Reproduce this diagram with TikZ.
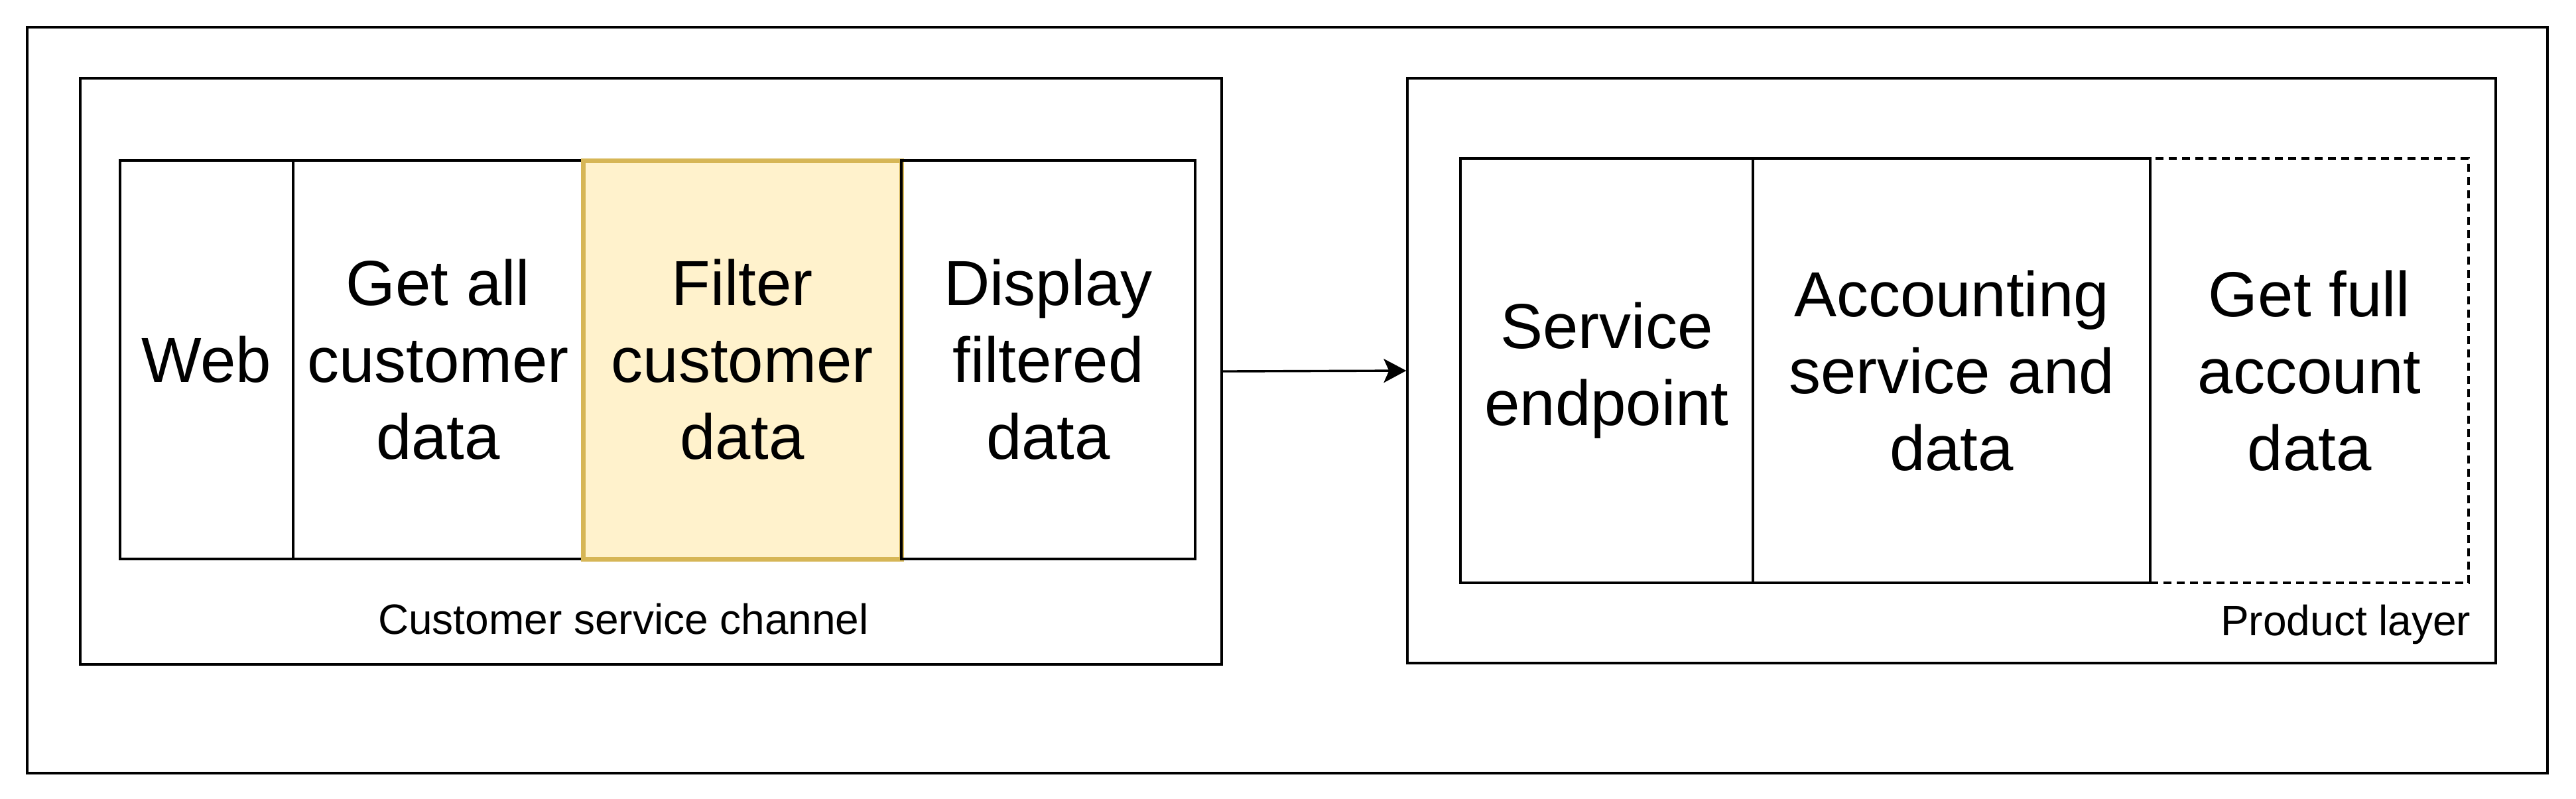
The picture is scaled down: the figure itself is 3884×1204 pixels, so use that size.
\documentclass[tikz,border=0pt]{standalone}
\usepackage{fontspec}
\setmainfont{Liberation Sans}
\usetikzlibrary{arrows.meta}

\definecolor{filterfill}{HTML}{FFF2CC}
\definecolor{filterdraw}{HTML}{D6B656}

\begin{document}
\begin{tikzpicture}[x=0.25pt, y=-0.25pt, line width=0.85pt,
		frame/.style={draw, rectangle, inner sep=0pt},
		cell/.style={frame, align=center, font=\fontsize{24}{29}\selectfont},
		layertext/.style={inner sep=0pt, font=\fontsize{16}{19}\selectfont}]
		\useasboundingbox (0,0) rectangle (3884,1204);

		\node[frame, minimum width=950pt, minimum height=281.25pt] (outer) at (1941,603.5) {};

		\node[frame, minimum width=430.25pt, minimum height=221pt] (channel) at (981.5,560) {};
		\node[cell, minimum width=65.25pt,  minimum height=150.25pt] (web)     at (311.5,542.5)  {Web};
		\node[cell, minimum width=109.25pt, minimum height=150.25pt] (getall)  at (660.5,542.5)  {Get all\\customer\\data};
		\node[cell, minimum width=120pt,    minimum height=150.25pt, fill=filterfill, draw=filterdraw, line width=1.75pt] (filter) at (1119,542.5) {Filter\\customer\\data};
		\node[cell, minimum width=110.75pt, minimum height=150.25pt] (display) at (1580.5,542.5) {Display\\filtered\\data};
		\node[layertext, anchor=base] (channeltext) at (940,956) {Customer service channel};

		\node[frame, minimum width=410.25pt, minimum height=220.5pt] (product) at (2942.5,559) {};
		\node[cell, minimum width=110.25pt, minimum height=160pt] (endpoint)   at (2422.5,559) {Service\\endpoint};
		\node[cell, minimum width=149.75pt, minimum height=160pt] (accounting) at (2942.5,559) {Accounting\\service and\\data};
		\node[cell, minimum width=120pt,    minimum height=160pt, dash pattern=on 3pt off 2pt] (fullaccount) at (3482,559) {Get full\\account\\data};
		\node[layertext, anchor=base east] (producttext) at (3727,958) {Product layer};

		\draw[-{Stealth[length=8.5pt, width=9pt, inset=2pt]}] (channel.east) -- (product.west);

	\end{tikzpicture}
\end{document}
